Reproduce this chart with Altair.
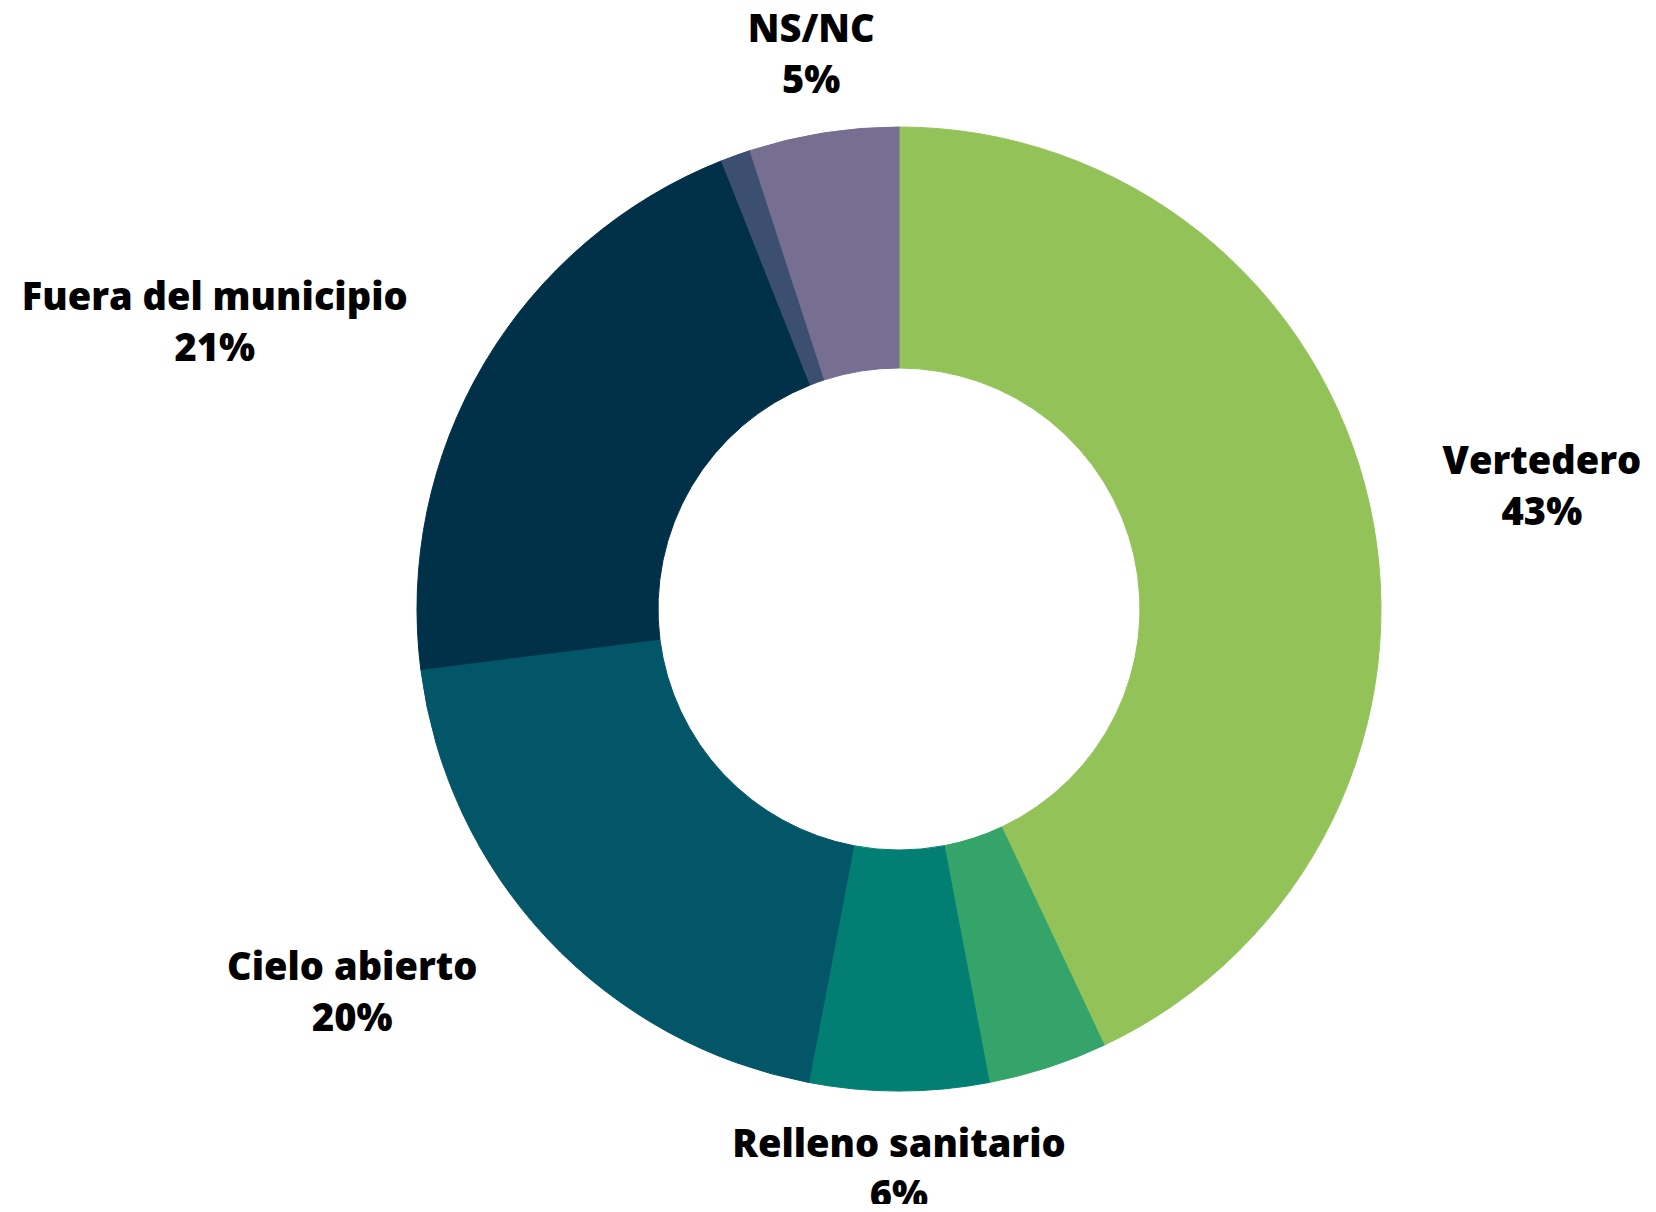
import altair as alt
import pandas as pd

categories = ["Vertedero", "Otros", "Relleno sanitario", "Cielo abierto",
              "Fuera del municipio", "Otros destinos", "NS/NC"]
values = [43, 4, 6, 20, 21, 1, 5]
show_label = [True, False, True, True, True, False, True]
colors = ["#93C358", "#35A46A", "#027F72", "#035668", "#013149", "#3C4F70", "#776F92"]

df = pd.DataFrame({
    "idx": list(range(len(categories))),
    "category": categories,
    "value": values,
    "show": show_label,
})
df["label"] = [f"{c}\n{v}%" for c, v in zip(categories, values)]

CX, CY = 891, 601
R_OUT, R_IN = 482, 241
R_LAB = 561
HALF_CHAR = 10.6

base = alt.Chart(df)

arcs = base.mark_arc(outerRadius=R_OUT, innerRadius=R_IN, strokeWidth=1).encode(
    theta=alt.Theta("value:Q", stack=True),
    order=alt.Order("idx:Q"),
    color=alt.Color("category:N", scale=alt.Scale(domain=categories, range=colors), legend=None),
    stroke=alt.Stroke("category:N", scale=alt.Scale(domain=categories, range=colors), legend=None),
    x=alt.value(CX),
    y=alt.value(CY),
)

labels = base.transform_joinaggregate(
    total="sum(value)"
).transform_window(
    cum="sum(value)", sort=[alt.SortField("idx", order="ascending")], frame=[None, 0]
).transform_calculate(
    mid="(datum.cum - datum.value / 2) / datum.total * 2 * PI",
).transform_calculate(
    s="sin(datum.mid)", c="cos(datum.mid)",
    w=f"length(datum.category) * {HALF_CHAR}",
).transform_calculate(
    off="abs(datum.s) < 0.3 ? 0 : (datum.s > 0 ? datum.w : -datum.w)",
).transform_calculate(
    px=f"{R_LAB} * datum.s + datum.off",
    py=f"-{R_LAB} * datum.c",
).transform_calculate(
    lr="sqrt(datum.px * datum.px + datum.py * datum.py)",
    lt0="atan2(datum.px, -datum.py)",
).transform_calculate(
    lt="datum.lt0 < 0 ? datum.lt0 + 2 * PI : datum.lt0",
).transform_filter(
    "datum.show"
).mark_text(
    font="Open Sans", fontWeight=800, fontSize=38, lineHeight=51,
    lineBreak="\n", align="center", baseline="middle", color="#000000", dy=-24,
).encode(
    theta=alt.Theta("lt:Q", scale=None, stack=False),
    radius=alt.Radius("lr:Q", scale=None),
    text="label:N",
    x=alt.value(CX),
    y=alt.value(CY),
)

chart = alt.layer(arcs, labels).properties(
    width=1640, height=1196, padding=0,
    autosize=alt.AutoSizeParams(type="none"),
    background="#ffffff",
).configure_view(stroke=None)

chart.save("out.html", embed_options={"renderer": "svg", "actions": False})
